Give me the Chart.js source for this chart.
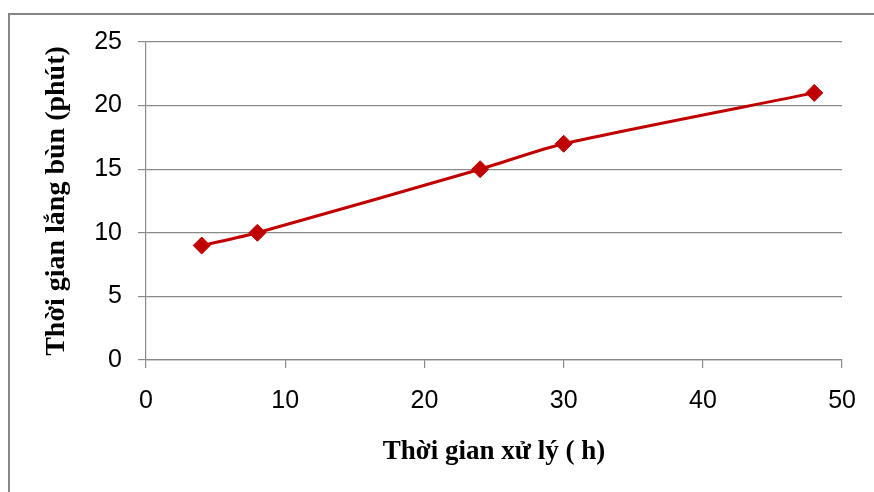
<!DOCTYPE html>
<html>
<head>
<meta charset="utf-8">
<script src="https://cdn.jsdelivr.net/npm/chart.js@4/dist/chart.umd.min.js"></script>
<style>
  html, body { margin: 0; padding: 0; background: #ffffff; }
  #wrap { position: relative; width: 874px; height: 492px; }
  canvas { display: block; }
</style>
</head>
<body>
<div id="wrap"><canvas id="c" width="874" height="492"></canvas></div>
<script>
// Data
const processingHours = [4, 8, 24, 30, 48];
const settlingMinutes = [9, 10, 15, 17, 21];
const xTitle = "Thời gian xử lý ( h)";
const yTitle = "Thời gian lắng bùn (phút)";
const xRange = [0, 50];
const yRange = [0, 25];
const xStep = 10;
const yStep = 5;

const points = processingHours.map((x, i) => ({ x: x, y: settlingMinutes[i] }));

const frame = {
  id: 'frame',
  beforeDraw(chart) {
    const ctx = chart.ctx;
    ctx.save();
    ctx.fillStyle = '#ffffff';
    ctx.fillRect(0, 0, chart.width, chart.height);
    ctx.strokeStyle = '#868686';
    ctx.lineWidth = 2;
    ctx.strokeRect(9, 14, 2000, 2000);
    ctx.restore();
  }
};

const lineColor = '#c00000';
const gridColor = '#8a8a8a';

new Chart(document.getElementById('c'), {
  type: 'scatter',
  data: {
    datasets: [{
      data: points,
      showLine: true,
      borderColor: lineColor,
      backgroundColor: lineColor,
      borderWidth: 3,
      tension: 0.25,
      pointStyle: 'rectRot',
      pointRadius: 8.5,
      pointHoverRadius: 8.5,
      pointBorderWidth: 1,
      pointBorderColor: lineColor,
      pointBackgroundColor: lineColor
    }]
  },
  options: {
    responsive: false,
    animation: false,
    events: [],
    layout: { padding: { left: 0, right: 31, top: 42, bottom: 0 } },
    plugins: { legend: { display: false }, tooltip: { enabled: false } },
    scales: {
      x: {
        type: 'linear',
        min: xRange[0], max: xRange[1],
        afterFit(scale) { scale.height = 132; },
        ticks: {
          stepSize: xStep,
          color: '#000000',
          padding: 18,
          font: { family: 'Liberation Sans', size: 25 }
        },
        grid: {
          drawOnChartArea: false,
          drawTicks: true,
          tickLength: 8,
          color: gridColor,
          lineWidth: 1.2
        },
        border: { color: gridColor, width: 1.2 },
        title: {
          display: true,
          text: xTitle,
          color: '#000000',
          font: { family: 'Liberation Serif', size: 27, weight: 'bold' },
          padding: { top: 0, bottom: 24 }
        }
      },
      y: {
        type: 'linear',
        min: yRange[0], max: yRange[1],
        afterFit(scale) { scale.width = 146; },
        ticks: {
          stepSize: yStep,
          color: '#000000',
          padding: 16,
          font: { family: 'Liberation Sans', size: 25 }
        },
        grid: {
          drawOnChartArea: true,
          drawTicks: true,
          tickLength: 8,
          color: gridColor,
          lineWidth: 1.2
        },
        border: { color: gridColor, width: 1.2 },
        title: {
          display: true,
          text: yTitle,
          color: '#000000',
          font: { family: 'Liberation Serif', size: 28, weight: 'bold' },
          padding: { top: 40, bottom: 0 }
        }
      }
    }
  },
  plugins: [frame]
});
</script>
</body>
</html>
